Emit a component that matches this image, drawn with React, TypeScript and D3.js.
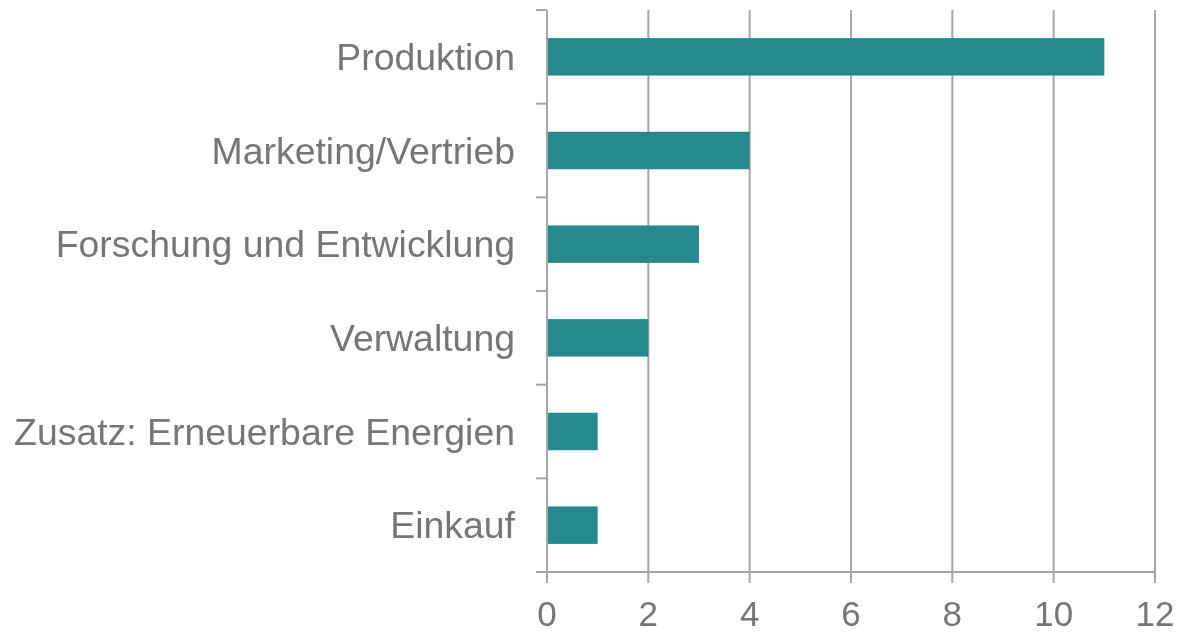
import * as d3 from 'd3';
import React, { useRef, useEffect } from 'react';

const categories = [
  'Produktion',
  'Marketing/Vertrieb',
  'Forschung und Entwicklung',
  'Verwaltung',
  'Zusatz: Erneuerbare Energien',
  'Einkauf',
];
const values = [11, 4, 3, 2, 1, 1];
const xTicks = [0, 2, 4, 6, 8, 10, 12];

function BarChart() {
  const ref = useRef<SVGSVGElement>(null);

  useEffect(() => {
    const svgWidth = 1177, svgHeight = 633;
    const margin = { top: 10, right: 22, bottom: 61, left: 547 };
    const width = svgWidth - margin.left - margin.right;
    const height = svgHeight - margin.top - margin.bottom;
    const lineColor = '#a6a6a6';
    const textColor = '#767676';
    const font = '"Liberation Sans", Arial, sans-serif';

    const svg = d3.select(ref.current);
    svg.selectAll('*').remove();
    svg.attr('width', svgWidth).attr('height', svgHeight);

    const g = svg.append('g')
      .attr('transform', 'translate(' + margin.left + ',' + margin.top + ')');

    const x = d3.scaleLinear().domain([0, 12]).range([0, width]);
    const y = d3.scaleBand().domain(categories).range([0, height]).padding(0);

    // vertical gridlines
    g.selectAll('.grid')
      .data(xTicks.slice(1))
      .enter()
      .append('line')
      .attr('x1', (d) => x(d))
      .attr('x2', (d) => x(d))
      .attr('y1', 0)
      .attr('y2', height + 11)
      .attr('stroke', lineColor)
      .attr('stroke-width', 2);

    // bars
    g.selectAll('.bar')
      .data(categories)
      .enter()
      .append('rect')
      .attr('x', x(0))
      .attr('y', (d) => (y(d) as number) + y.bandwidth() * 0.3)
      .attr('width', (d, i) => x(values[i]) - x(0))
      .attr('height', y.bandwidth() * 0.4)
      .attr('fill', '#268a8c');

    // y axis line + boundary ticks
    g.append('line')
      .attr('x1', 0).attr('x2', 0)
      .attr('y1', 0).attr('y2', height + 11)
      .attr('stroke', lineColor)
      .attr('stroke-width', 2);

    const bounds = d3.range(categories.length + 1).map((i) => i * y.step());
    g.selectAll('.ytick')
      .data(bounds)
      .enter()
      .append('line')
      .attr('x1', -11).attr('x2', 0)
      .attr('y1', (d) => d).attr('y2', (d) => d)
      .attr('stroke', lineColor)
      .attr('stroke-width', 2);

    // x axis line
    g.append('line')
      .attr('x1', 0).attr('x2', width)
      .attr('y1', height).attr('y2', height)
      .attr('stroke', lineColor)
      .attr('stroke-width', 2);

    // category labels
    g.selectAll('.ylabel')
      .data(categories)
      .enter()
      .append('text')
      .text((d) => d)
      .attr('x', -32)
      .attr('y', (d) => (y(d) as number) + y.bandwidth() / 2)
      .attr('dy', '0.35em')
      .attr('text-anchor', 'end')
      .attr('font-family', font)
      .attr('font-size', '37.4px')
      .attr('fill', textColor);

    // x tick labels
    g.selectAll('.xlabel')
      .data(xTicks)
      .enter()
      .append('text')
      .text((d) => d)
      .attr('x', (d) => x(d))
      .attr('y', height + 54)
      .attr('text-anchor', 'middle')
      .attr('font-family', font)
      .attr('font-size', '35px')
      .attr('fill', textColor);
  }, []);

  return <svg ref={ref} style={{ display: 'block' }}></svg>;
}

export default function App() {
  return (
    <div style={{ position: 'fixed', left: 0, top: 0 }}>
      <BarChart />
    </div>
  );
}
